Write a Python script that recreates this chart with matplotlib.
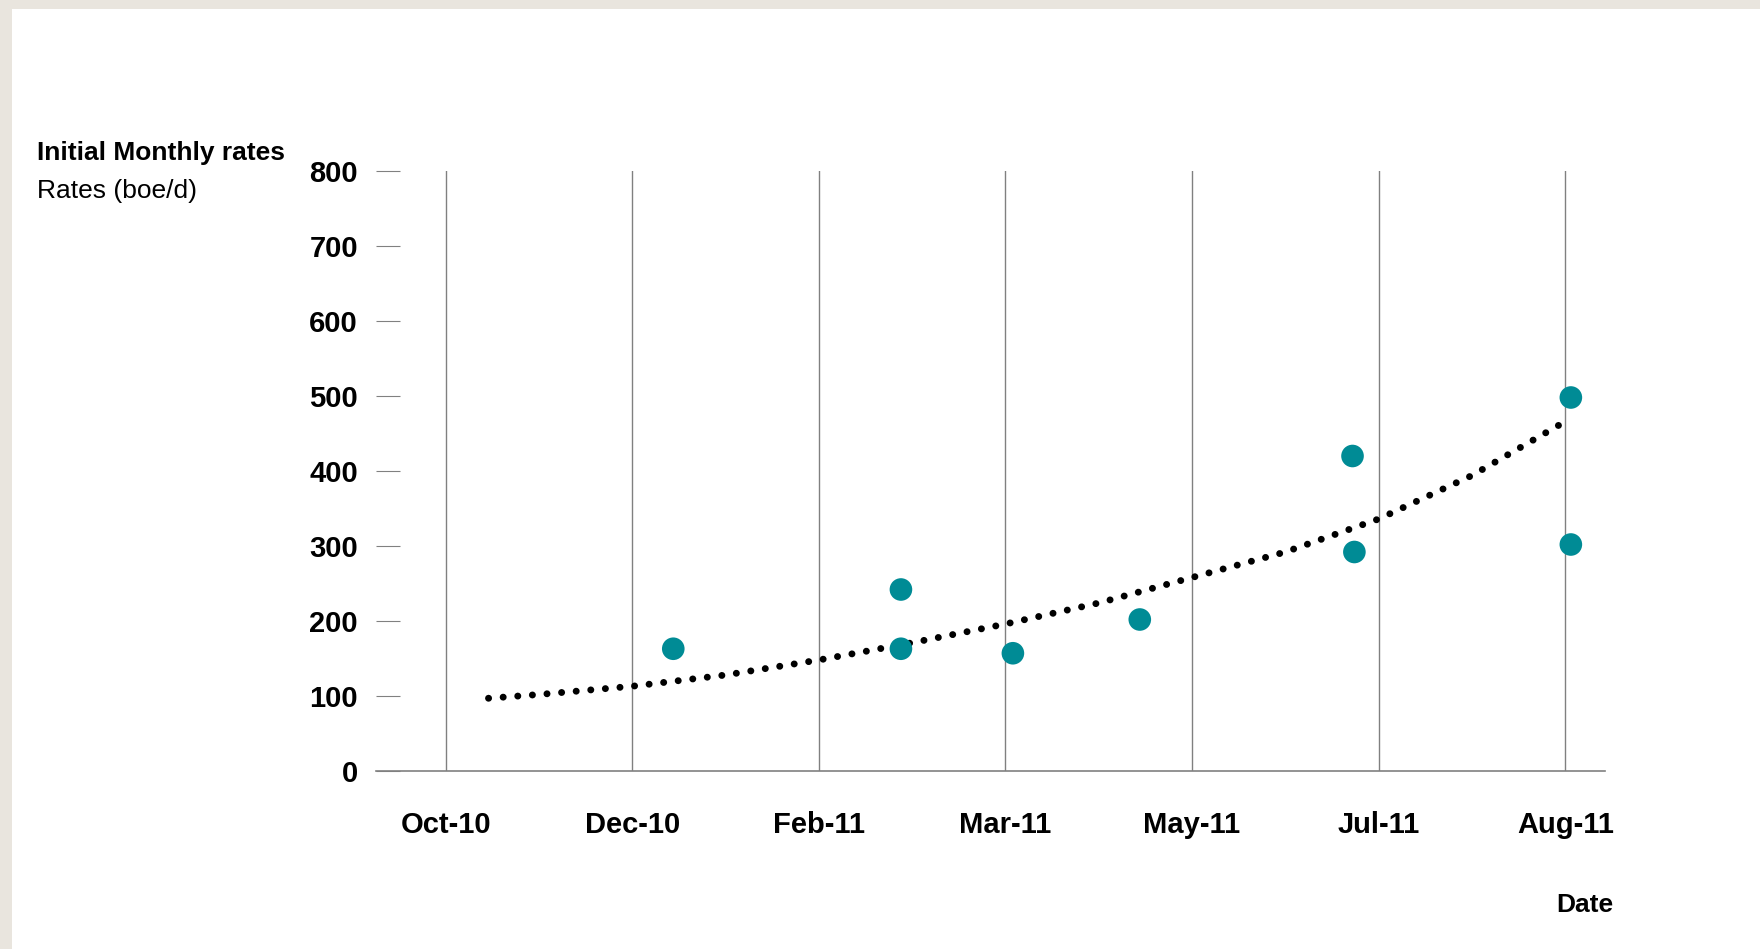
import numpy as np
import matplotlib.pyplot as plt
from matplotlib.patches import Rectangle

plt.rcParams['font.family'] = ['Liberation Sans', 'DejaVu Sans']

# x positions are in "tick units" (0 = Oct-10 gridline, 6 = Aug-11 gridline)
tick_labels = ['Oct-10', 'Dec-10', 'Feb-11', 'Mar-11', 'May-11', 'Jul-11', 'Aug-11']
well_x = [1.22, 2.44, 2.44, 3.04, 3.72, 4.86, 4.87, 6.03, 6.03]
well_rate = [163, 242, 163, 157, 202, 420, 292, 498, 302]

# trendline
trend_x = [0.23, 0.5, 1.0, 1.5, 2.0, 2.5, 3.0, 3.5, 4.0, 4.5, 5.0, 5.5, 6.0]
trend_rate = [97, 102, 113, 128, 148, 171, 196, 224, 258, 292, 336, 394, 466]

W, H = 1760, 949
fig = plt.figure(figsize=(W / 100, H / 100), dpi=100)
fig.patch.set_facecolor('#e9e5de')
fig.patches.append(Rectangle((12 / W, 0), 1, 1 - 9 / H, transform=fig.transFigure,
                             facecolor='white', edgecolor='none', zorder=-5))

ax = fig.add_axes([376 / W, (H - 771) / H, (1605 - 376) / W, (771 - 171) / H])
ax.set_zorder(5)
ax.set_facecolor('none')

ax.plot(trend_x, trend_rate, color='black', linewidth=5.0,
        linestyle=(0, (0.01, 2.1)), dash_capstyle='round', zorder=3)
ax.scatter(well_x, well_rate, s=265, color='#008b95', edgecolors='none', zorder=4)

ax.set_xlim(-0.373, 6.213)
ax.set_ylim(0, 800)
ax.set_xticks(range(len(tick_labels)))
ax.set_xticklabels(tick_labels, fontsize=21, fontweight='bold')
ax.set_yticks(range(0, 801, 100))
ax.set_yticklabels([str(v) for v in range(0, 801, 100)], fontsize=21, fontweight='bold')
ax.tick_params(axis='x', length=0, pad=29)
ax.tick_params(axis='y', direction='in', length=17, width=0.8, color='#808080', pad=13)
ax.grid(axis='x', color='#808080', linewidth=1.0)
ax.set_axisbelow(True)

for side in ['top', 'right', 'left']:
    ax.spines[side].set_visible(False)
ax.spines['bottom'].set_color('#808080')
ax.spines['bottom'].set_linewidth(1.2)

fig.text(37 / W, 1 - 153 / H, 'Initial Monthly rates', fontsize=19, fontweight='bold',
         va='center', ha='left')
fig.text(37 / W, 1 - 191 / H, 'Rates (boe/d)', fontsize=19, va='center', ha='left')
fig.text(1613 / W, 1 - 905 / H, 'Date', fontsize=19, fontweight='bold', va='center', ha='right')

fig.savefig('out.png', dpi=100)
